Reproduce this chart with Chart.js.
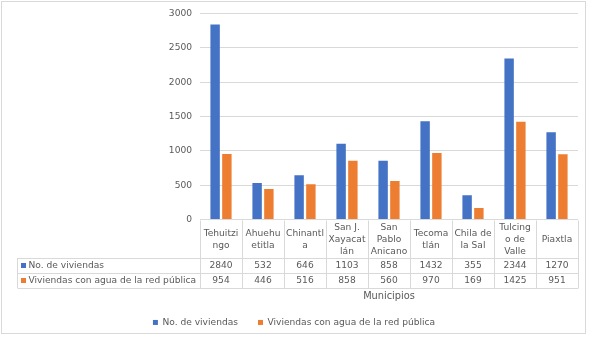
<!DOCTYPE html>
<html>
<head>
<meta charset="utf-8">
<script src="https://cdn.jsdelivr.net/npm/chart.js@4"></script>
<style>
  html, body { margin: 0; padding: 0; background: #ffffff; }
  #wrap { width: 589px; height: 337px; position: relative; }
</style>
</head>
<body>
<div id="wrap"><canvas id="c" width="589" height="337"></canvas></div>
<script>
// ---- data ----
const categories = [
  ["Tehuitzi", "ngo"],
  ["Ahuehu", "etitla"],
  ["Chinantl", "a"],
  ["San J.", "Xayacat", "lán"],
  ["San", "Pablo", "Anicano"],
  ["Tecoma", "tlán"],
  ["Chila de", "la Sal"],
  ["Tulcing", "o de", "Valle"],
  ["Piaxtla"]
];
const seriesNames = ["No. de viviendas", "Viviendas con agua de la red pública"];
const viviendas = [2840, 532, 646, 1103, 858, 1432, 355, 2344, 1270];
const conAgua = [954, 446, 516, 858, 560, 970, 169, 1425, 951];
const yTicks = [0, 500, 1000, 1500, 2000, 2500, 3000];
const xTitle = "Municipios";

const colors = ["#4472C4", "#ED7D31"];
const textColor = "#595959";
const lineColor = "#d9d9d9";
const FONT = "DejaVu Sans";
const FS = 9.1;

const tablePlugin = {
  id: "dataTable",
  beforeDraw(chart) {
    const ctx = chart.ctx;
    ctx.save();
    ctx.strokeStyle = lineColor;
    ctx.lineWidth = 1;
    ctx.strokeRect(1.5, 1.5, 584, 332);
    ctx.restore();
  },
  afterDraw(chart) {
    const ctx = chart.ctx;
    const area = chart.chartArea;
    const xs = chart.scales.x;
    const n = categories.length;
    const cw = (area.right - area.left) / n;
    const y0 = Math.round(area.bottom) + 0.5;
    const y1 = y0 + 37.5;
    const y2 = y1 + 15;
    const y3 = y2 + 15;
    const xLeft = 17.5;
    ctx.save();
    ctx.strokeStyle = lineColor;
    ctx.lineWidth = 1;
    ctx.beginPath();
    for (let i = 0; i <= n; i++) {
      const x = Math.round(area.left + i * cw) + 0.5;
      ctx.moveTo(x, y0);
      ctx.lineTo(x, y3);
    }
    ctx.moveTo(xLeft, y1); ctx.lineTo(xLeft, y3);
    [y1, y2, y3].forEach(y => {
      const yy = Math.round(y) + 0.5;
      ctx.moveTo(xLeft, yy); ctx.lineTo(Math.round(area.right) + 0.5, yy);
    });
    ctx.stroke();

    ctx.fillStyle = textColor;
    ctx.font = FS + "px '" + FONT + "'";
    ctx.textAlign = "center";
    ctx.textBaseline = "middle";
    const midH = (y0 + y1) / 2;
    const lh = 12;
    for (let i = 0; i < n; i++) {
      const cx = xs.getPixelForValue(i);
      const lines = categories[i];
      const startY = midH - (lines.length - 1) * lh / 2;
      lines.forEach((t, k) => ctx.fillText(t, cx, startY + k * lh));
      ctx.fillText(String(viviendas[i]), cx, (y1 + y2) / 2);
      ctx.fillText(String(conAgua[i]), cx, (y2 + y3) / 2);
    }
    ctx.textAlign = "left";
    const rows = [(y1 + y2) / 2, (y2 + y3) / 2];
    rows.forEach((ry, k) => {
      ctx.fillStyle = colors[k];
      ctx.fillRect(21, ry - 2.5, 5, 5);
      ctx.fillStyle = textColor;
      ctx.fillText(seriesNames[k], 28.5, ry);
    });
    ctx.restore();
  }
};

new Chart(document.getElementById("c"), {
  type: "bar",
  data: {
    labels: categories,
    datasets: [
      { label: seriesNames[0], data: viviendas, backgroundColor: colors[0], categoryPercentage: 0.56, barPercentage: 0.8 },
      { label: seriesNames[1], data: conAgua, backgroundColor: colors[1], categoryPercentage: 0.56, barPercentage: 0.8 }
    ]
  },
  options: {
    responsive: false,
    animation: false,
    devicePixelRatio: 1,
    layout: { padding: { top: 11.5, left: 10, right: 11, bottom: 0 } },
    plugins: {
      tooltip: { enabled: false },
      legend: {
        position: "bottom",
        labels: {
          boxWidth: 5, boxHeight: 5, padding: 20,
          color: textColor,
          font: { family: FONT, size: FS }
        }
      }
    },
    scales: {
      x: {
        grid: { display: false, drawTicks: false },
        border: { display: false },
        ticks: { display: false },
        title: {
          display: true, text: xTitle, color: textColor,
          font: { family: FONT, size: 9.8 },
          padding: { top: 0, bottom: -4 }
        },
        afterFit: s => { s.height = 78.3; }
      },
      y: {
        min: 0, max: 3000,
        afterBuildTicks: s => { s.ticks = yTicks.map(v => ({ value: v })); },
        grid: { color: lineColor, drawTicks: false },
        border: { display: false },
        ticks: { color: textColor, padding: 8, font: { family: FONT, size: FS }, callback: v => String(v) },
        afterFit: s => { s.width = 190; }
      }
    }
  },
  plugins: [tablePlugin]
});
</script>
</body>
</html>
